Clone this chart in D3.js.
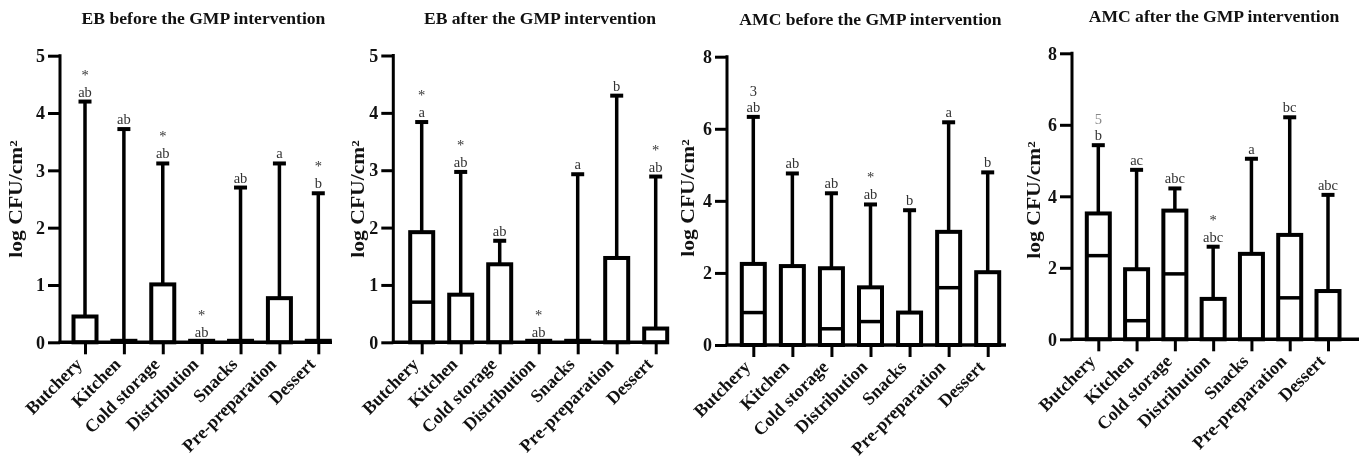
<!DOCTYPE html>
<html>
<head>
<meta charset="utf-8">
<script src="https://cdn.jsdelivr.net/npm/d3@7/dist/d3.min.js"></script>
<style>
  html, body { margin: 0; padding: 0; background: #fff; }
  svg { display: block; filter: grayscale(100%); }
  text { font-family: "Liberation Serif", "Times New Roman", serif; }
</style>
</head>
<body>
<svg id="chart" width="1365" height="462"></svg>
<script>
// ---------------- DATA ----------------
const categories = ["Butchery", "Kitchen", "Cold storage", "Distribution", "Snacks", "Pre-preparation", "Dessert"];
const panelTitles = ["EB before the GMP intervention", "EB after the GMP intervention",
                     "AMC before the GMP intervention", "AMC after the GMP intervention"];
const yAxisLabel = "log CFU/cm²";
const yMaxValues = [5, 5, 8, 8];
const yTickValuesEB = [0, 1, 2, 3, 4, 5];
const yTickValuesAMC = [0, 2, 4, 6, 8];

// EB before
const ebBeforeMin    = [0, 0, 0, 0, 0, 0, 0];
const ebBeforeQ1     = [0, 0, 0, 0, 0, 0, 0];
const ebBeforeMedian = [0, 0, 0, 0, 0, 0, 0];
const ebBeforeQ3     = [0.45, 0, 1.01, 0, 0, 0.77, 0];
const ebBeforeMax    = [4.2, 3.72, 3.12, 0, 2.7, 3.12, 2.6];
const ebBeforeLetters = ["ab", "ab", "ab", "ab", "ab", "a", "b"];
const ebBeforeMarks   = ["*", "", "*", "*", "", "", "*"];

// EB after
const ebAfterMin    = [0, 0, 0, 0, 0, 0, 0];
const ebAfterQ1     = [0, 0, 0, 0, 0, 0, 0];
const ebAfterMedian = [0.7, 0, 0, 0, 0, 0, 0];
const ebAfterQ3     = [1.92, 0.83, 1.36, 0, 0, 1.47, 0.24];
const ebAfterMax    = [3.84, 2.97, 1.77, 0, 2.93, 4.3, 2.89];
const ebAfterLetters = ["a", "ab", "ab", "ab", "a", "b", "ab"];
const ebAfterMarks   = ["*", "*", "", "*", "", "", "*"];

// AMC before
const amcBeforeMin    = [0, 0, 0, 0, 0, 0, 0];
const amcBeforeQ1     = [0, 0, 0, 0, 0, 0, 0];
const amcBeforeMedian = [0.9, 0, 0.45, 0.65, 0, 1.59, 0];
const amcBeforeQ3     = [2.25, 2.19, 2.13, 1.6, 0.9, 3.14, 2.02];
const amcBeforeMax    = [6.33, 4.76, 4.21, 3.9, 3.74, 6.18, 4.79];
const amcBeforeLetters = ["ab", "ab", "ab", "ab", "b", "a", "b"];
const amcBeforeMarks   = ["3", "", "", "*", "", "", ""];

// AMC after
const amcAfterMin    = [0, 0, 0, 0, 0, 0, 0];
const amcAfterQ1     = [0, 0, 0, 0, 0, 0, 0];
const amcAfterMedian = [2.34, 0.52, 1.83, 0, 0, 1.16, 0];
const amcAfterQ3     = [3.52, 1.96, 3.6, 1.13, 2.39, 2.92, 1.35];
const amcAfterMax    = [5.43, 4.74, 4.22, 2.59, 5.05, 6.21, 4.04];
const amcAfterLetters = ["b", "ac", "abc", "abc", "a", "bc", "abc"];
const amcAfterMarks   = ["5", "", "", "*", "", "", ""];

// ---------------- LAYOUT ----------------
const panels = [
  { title: panelTitles[0], yMax: yMaxValues[0], ticks: yTickValuesEB,
    min: ebBeforeMin, q1: ebBeforeQ1, med: ebBeforeMedian, q3: ebBeforeQ3, max: ebBeforeMax,
    letters: ebBeforeLetters, marks: ebBeforeMarks,
    axisX: 60, y0: 342.3, yTop: 55.7, xFirst: 85, xLast: 318.3, axisEnd: 332,
    titleX: 203.5, titleY: 24, labX: 16, labY: 199 },
  { title: panelTitles[1], yMax: yMaxValues[1], ticks: yTickValuesEB,
    min: ebAfterMin, q1: ebAfterQ1, med: ebAfterMedian, q3: ebAfterQ3, max: ebAfterMax,
    letters: ebAfterLetters, marks: ebAfterMarks,
    axisX: 393.3, y0: 342.3, yTop: 55.5, xFirst: 421.7, xLast: 655.7, axisEnd: 669,
    titleX: 540, titleY: 24, labX: 358, labY: 199 },
  { title: panelTitles[2], yMax: yMaxValues[2], ticks: yTickValuesAMC,
    min: amcBeforeMin, q1: amcBeforeQ1, med: amcBeforeMedian, q3: amcBeforeQ3, max: amcBeforeMax,
    letters: amcBeforeLetters, marks: amcBeforeMarks,
    axisX: 727, y0: 345, yTop: 56.7, xFirst: 753.3, xLast: 987.7, axisEnd: 1006,
    titleX: 870.5, titleY: 25, labX: 688, labY: 198 },
  { title: panelTitles[3], yMax: yMaxValues[3], ticks: yTickValuesAMC,
    min: amcAfterMin, q1: amcAfterQ1, med: amcAfterMedian, q3: amcAfterQ3, max: amcAfterMax,
    letters: amcAfterLetters, marks: amcAfterMarks,
    axisX: 1072, y0: 339.3, yTop: 53.3, xFirst: 1098.3, xLast: 1328, axisEnd: 1359,
    titleX: 1214, titleY: 22, labX: 1034, labY: 200 }
];

const svg = d3.select("#chart");
const boxW = 23;

panels.forEach((p, pi) => {
  const g = svg.append("g");
  const x = d3.scalePoint().domain(categories).range([p.xFirst, p.xLast]);
  const y = d3.scaleLinear().domain([0, p.yMax]).range([p.y0, p.yTop]);

  // title
  g.append("text").attr("transform", `translate(${p.titleX},${p.titleY}) scale(1.1,1)`)
    .attr("text-anchor", "middle").attr("font-weight", "bold")
    .attr("font-size", "16px").attr("fill", "#111").text(p.title);

  // y label
  g.append("text")
    .attr("transform", `translate(${p.labX},${p.labY}) rotate(-90) scale(1.2,1)`)
    .attr("text-anchor", "middle").attr("dominant-baseline", "central")
    .attr("font-weight", "bold").attr("font-size", "18px").attr("fill", "#111")
    .text(yAxisLabel);

  // y axis
  const yAxis = d3.axisLeft(y).tickValues(p.ticks).tickSize(12).tickPadding(3).tickFormat(d3.format("d"));
  const ya = g.append("g").attr("transform", `translate(${p.axisX},0)`).call(yAxis);
  ya.select(".domain").remove();
  ya.selectAll(".tick line").attr("stroke", "#000").attr("stroke-width", 3);
  ya.selectAll(".tick text").attr("font-family", "Liberation Serif, serif")
    .attr("font-weight", "bold").attr("font-size", "18px").attr("fill", "#111");
  g.append("line").attr("x1", p.axisX).attr("x2", p.axisX)
    .attr("y1", p.y0).attr("y2", p.yTop - 1.5)
    .attr("stroke", "#000").attr("stroke-width", 3);

  // x axis
  const xAxis = d3.axisBottom(x).tickSize(12).tickFormat("");
  const xa = g.append("g").attr("transform", `translate(0,${p.y0})`).call(xAxis);
  xa.select(".domain").remove();
  xa.selectAll(".tick line").attr("stroke", "#000").attr("stroke-width", 3);

  // category labels
  categories.forEach(c => {
    g.append("text")
      .attr("transform", `translate(${x(c) - 2},${p.y0 + 23}) rotate(-45)`)
      .attr("text-anchor", "end").attr("font-weight", "bold")
      .attr("font-size", "18px").attr("fill", "#111").text(c);
  });

  // boxes
  categories.forEach((c, i) => {
    const cx = x(c);
    if (p.max[i] > p.q3[i]) {
      g.append("line").attr("x1", cx).attr("x2", cx)
        .attr("y1", y(p.q3[i])).attr("y2", y(p.max[i]))
        .attr("stroke", "#000").attr("stroke-width", 3.5);
      g.append("line").attr("x1", cx - 6.5).attr("x2", cx + 6.5)
        .attr("y1", y(p.max[i])).attr("y2", y(p.max[i]))
        .attr("stroke", "#000").attr("stroke-width", 4);
    }
    const yTopBox = y(p.q3[i]);
    const h = y(p.q1[i]) - yTopBox;
    g.append("rect").attr("x", cx - boxW / 2).attr("width", boxW)
      .attr("y", h > 0.6 ? yTopBox : y(p.q1[i]) - 1.5).attr("height", Math.max(0.6, h))
      .attr("fill", "#fff").attr("stroke", "#000").attr("stroke-width", 4);
    if (p.med[i] > p.q1[i]) {
      g.append("line").attr("x1", cx - boxW / 2).attr("x2", cx + boxW / 2)
        .attr("y1", y(p.med[i])).attr("y2", y(p.med[i]))
        .attr("stroke", "#000").attr("stroke-width", 3.5);
    }
    const top = y(p.max[i]);
    const baseL = top - 5;
    g.append("text").attr("x", cx).attr("y", baseL)
      .attr("text-anchor", "middle").attr("font-size", "14.5px").attr("fill", "#333")
      .text(p.letters[i]);
    if (p.marks[i]) {
      const isStar = p.marks[i] === "*";
      g.append("text").attr("x", cx).attr("y", baseL - (isStar ? 17 : 16))
        .attr("text-anchor", "middle").attr("font-size", "14.5px")
        .attr("fill", p.marks[i] === "5" ? "#888" : "#333")
        .text(p.marks[i]);
    }
  });

  // x-axis line on top of box bottoms
  g.append("line").attr("x1", p.axisX - 1.5).attr("x2", p.axisEnd)
    .attr("y1", p.y0).attr("y2", p.y0)
    .attr("stroke", "#000").attr("stroke-width", 3.5);
});
</script>
</body>
</html>
